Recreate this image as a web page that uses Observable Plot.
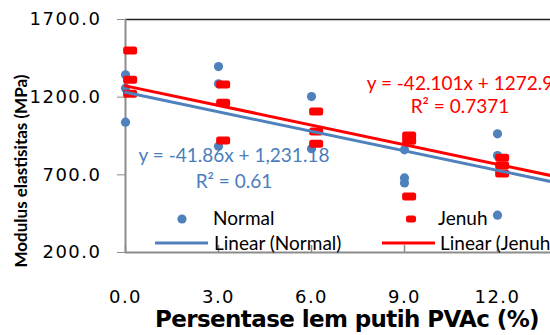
<!DOCTYPE html>
<html><head><meta charset="utf-8">
<script src="https://cdn.jsdelivr.net/npm/d3@7"></script>
<script src="https://cdn.jsdelivr.net/npm/@observablehq/plot@0.6"></script>
<style>body{margin:0;overflow:hidden;background:#fff}</style>
</head><body><div id="chart"></div>
<script>
// ---- data ----
const xTicks = [0, 3, 6, 9, 12];
const yTicks = [200, 700, 1200, 1700];
const normalX = [0, 0, 0, 3, 3, 3, 6, 6, 9, 9, 9, 12, 12, 12];
const normalY = [1344, 1258, 1039, 1397, 1286, 884, 1204, 868, 861, 680, 648, 964, 824, 440];
const jenuhX = [0.15, 0.15, 0.15, 3.15, 3.15, 3.15, 6.15, 6.15, 6.15, 9.15, 9.15, 9.15, 12.15, 12.15, 12.15];
const jenuhY = [1500, 1312, 1222, 1282, 1164, 921, 1108, 979, 900, 953, 919, 560, 810, 760, 709];
const trendNames = ["Normal", "Jenuh"];
const trendSlope = [-41.86, -42.101];
const trendIntercept = [1231.18, 1272.9];
const eqLabels = ["y = -41.86x + 1,231.18", "y = -42.101x + 1272.9"];
const r2Labels = ["R\u00b2 = 0.61", "R\u00b2 = 0.7371"];
const legendLabels = ["Normal", "Jenuh", "Linear (Normal)", "Linear (Jenuh)"];
const xTitle = "Persentase lem putih PVAc (%)";
const yTitle = "Modulus elastisitas (MPa)";

// ---- build ----
const blue = "#4F81BD", red = "#FF0000", gray = "#8c8c8c";
const W = 550, H = 335, ML = 125, MT = 19, MB = 83;
const xMax = (W - ML) / 31;
const normal = normalX.map((x, i) => ({x, y: normalY[i]}));
const jenuh = jenuhX.map((x, i) => ({x, y: jenuhY[i]}));
const trend = trendSlope.map((m, i) => [0, xMax].map(x => ({x, y: m * x + trendIntercept[i]})));

const dash = {draw(ctx) {
  const w = 7, h = 4, r = 2.5;
  ctx.moveTo(-w + r, -h); ctx.lineTo(w - r, -h); ctx.arcTo(w, -h, w, h, r);
  ctx.lineTo(w, h - r); ctx.arcTo(w, h, -w, h, r);
  ctx.lineTo(-w + r, h); ctx.arcTo(-w, h, -w, -h, r);
  ctx.lineTo(-w, -h + r); ctx.arcTo(-w, -h, w, -h, r); ctx.closePath();
}};

const chart = Plot.plot({
  width: W, height: H, marginLeft: ML, marginRight: 0, marginTop: MT, marginBottom: MB,
  style: {fontFamily: "DejaVu Sans", fontSize: "18px", letterSpacing: "1.5px", color: gray, background: "#fff"},
  x: {domain: [0, xMax], ticks: xTicks, tickSize: 0, tickPadding: 38, tickFormat: d3.format(".1f"), label: null},
  y: {domain: [200, 1700], ticks: yTicks, tickSize: 8, tickPadding: 16, tickFormat: d3.format(".1f"), label: null},
  marks: [
    Plot.ruleY([1700], {stroke: "#222", strokeWidth: 1.5}),
    Plot.tickX(xTicks, {x: d => d, insetTop: 226, stroke: gray, strokeWidth: 1.5}),
    Plot.ruleX([0], {stroke: gray, strokeWidth: 2}),
    Plot.ruleY([200], {stroke: gray, strokeWidth: 2}),
    Plot.dot(normal, {x: "x", y: "y", r: 4.6, fill: blue}),
    Plot.dot(jenuh, {x: "x", y: "y", r: 5, symbol: dash, fill: red, stroke: "none"}),
    Plot.line(trend[0], {x: "x", y: "y", stroke: blue, strokeWidth: 3}),
    Plot.line(trend[1], {x: "x", y: "y", stroke: red, strokeWidth: 3})
  ]
});
document.getElementById("chart").appendChild(chart);

const svg = d3.select(chart);
svg.selectAll("text").attr("fill", "#000");

function txt(s, x, y, o = {}) {
  const t = svg.append("text").text(s).attr("x", x).attr("y", y)
    .attr("fill", o.fill || "#000")
    .attr("font-family", o.font || "Lato")
    .attr("font-size", o.size || 19)
    .attr("font-weight", o.weight || "normal")
    .attr("letter-spacing", o.ls || 0)
    .attr("text-anchor", o.anchor || "start");
  if (o.transform) t.attr("transform", o.transform);
  return t;
}

// trendline equations
const eqColor = ["#4A7EBB", red];
txt(eqLabels[0], 234, 162, {fill: eqColor[0], anchor: "middle"});
txt(r2Labels[0], 234, 188, {fill: eqColor[0], anchor: "middle"});
txt(eqLabels[1], 460, 90, {fill: eqColor[1], anchor: "middle"});
txt(r2Labels[1], 460, 113, {fill: eqColor[1], anchor: "middle"});

// legend
svg.append("circle").attr("cx", 182).attr("cy", 219).attr("r", 4.6).attr("fill", blue);
txt(legendLabels[0], 213, 225);
svg.append("rect").attr("x", 406).attr("y", 215.5).attr("width", 10).attr("height", 7).attr("rx", 2.5).attr("fill", red);
txt(legendLabels[1], 438, 225);
svg.append("line").attr("x1", 155).attr("x2", 208).attr("y1", 243).attr("y2", 243).attr("stroke", blue).attr("stroke-width", 3);
txt(legendLabels[2], 214, 250);
svg.append("line").attr("x1", 382).attr("x2", 435).attr("y1", 243).attr("y2", 243).attr("stroke", red).attr("stroke-width", 3);
txt(legendLabels[3], 440, 250);

// axis titles
txt(xTitle, 155, 327, {font: "DejaVu Sans", size: 23, weight: "bold", ls: -0.6});
txt(yTitle, 0, 0, {font: "Lato", size: 17, weight: "bold", anchor: "middle", transform: "translate(27,171) rotate(-90)"});
</script>
</body></html>
